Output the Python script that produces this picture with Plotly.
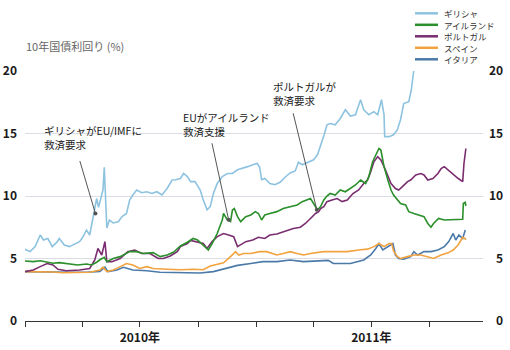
import plotly.graph_objects as go

FONT = "Noto Sans CJK JP"

# ---------------- data (10-year government bond yields, %) ----------------
greece_dates = ["2010-01-01","2010-01-09","2010-01-17","2010-01-25","2010-01-30","2010-02-06","2010-02-13","2010-02-21","2010-02-24","2010-03-04","2010-03-12","2010-03-20","2010-03-28","2010-04-02","2010-04-08","2010-04-13","2010-04-20","2010-04-24","2010-04-27","2010-05-02","2010-05-04","2010-05-06","2010-05-09","2010-05-10","2010-05-14","2010-05-20","2010-05-28","2010-06-03","2010-06-10","2010-06-15","2010-06-20","2010-06-26","2010-07-04","2010-07-12","2010-07-20","2010-07-28","2010-08-05","2010-08-13","2010-08-21","2010-08-26","2010-09-03","2010-09-08","2010-09-14","2010-09-19","2010-09-26","2010-10-04","2010-10-09","2010-10-15","2010-10-20","2010-10-25","2010-10-31","2010-11-08","2010-11-16","2010-11-24","2010-12-02","2010-12-10","2010-12-18","2010-12-26","2011-01-02","2011-01-06","2011-01-09","2011-01-14","2011-01-22","2011-01-30","2011-02-07","2011-02-15","2011-02-23","2011-03-03","2011-03-08","2011-03-14","2011-03-19","2011-03-27","2011-04-01","2011-04-07","2011-04-12","2011-04-17","2011-04-22","2011-04-27","2011-05-05","2011-05-13","2011-05-21","2011-05-29","2011-06-06","2011-06-14","2011-06-19","2011-06-27","2011-07-05","2011-07-11","2011-07-17","2011-07-21","2011-07-22","2011-07-29","2011-08-05","2011-08-11","2011-08-16","2011-08-21","2011-08-29","2011-09-02","2011-09-06","2011-09-12","2011-09-22","2011-10-07","2011-10-24","2011-11-07","2011-11-27"]
greece_vals = [5.74,5.55,5.95,6.88,6.48,6.6,5.95,6.35,6.6,6.08,5.95,6.16,6.35,6.7,7.28,6.88,8.6,9.8,9.1,10.2,10.5,12.3,8.35,7.44,8.08,7.84,7.94,8.35,8.6,9.68,10.08,10.48,10.26,10.34,10.2,10.34,10.08,10.6,11.28,11.3,11.4,11.8,11.55,11.15,11.15,10.5,9.7,8.9,9.15,10.2,11.0,11.55,11.8,11.8,12.1,12.2,12.35,12.5,12.6,12.3,11.3,11.4,11.0,10.9,11.1,11.5,11.85,12.0,12.7,12.5,12.6,12.8,12.9,13.3,14.0,14.8,15.7,15.8,15.7,16.2,16.9,16.4,16.5,17.7,16.9,16.5,16.75,16.5,17.7,16.5,14.75,14.75,14.9,15.3,16.1,17.4,17.55,18.5,20.1,21.0,22.5,23.5,24.5,27.0,28.0]

ireland_dates = ["2010-01-01","2010-01-14","2010-01-25","2010-02-05","2010-02-14","2010-02-24","2010-03-12","2010-03-25","2010-04-08","2010-04-16","2010-04-24","2010-04-29","2010-05-06","2010-05-10","2010-05-20","2010-05-31","2010-06-15","2010-06-26","2010-07-06","2010-07-22","2010-08-02","2010-08-13","2010-08-23","2010-09-03","2010-09-14","2010-09-23","2010-09-30","2010-10-09","2010-10-17","2010-10-23","2010-10-31","2010-11-08","2010-11-10","2010-11-16","2010-11-21","2010-11-24","2010-11-27","2010-12-02","2010-12-07","2010-12-15","2010-12-23","2010-12-30","2011-01-04","2011-01-09","2011-01-14","2011-01-22","2011-02-02","2011-02-12","2011-02-23","2011-03-06","2011-03-14","2011-03-22","2011-03-27","2011-04-01","2011-04-07","2011-04-12","2011-04-17","2011-04-22","2011-04-27","2011-05-05","2011-05-13","2011-05-21","2011-05-29","2011-06-06","2011-06-14","2011-06-22","2011-06-27","2011-07-03","2011-07-08","2011-07-13","2011-07-16","2011-07-19","2011-07-21","2011-07-27","2011-08-01","2011-08-05","2011-08-11","2011-08-16","2011-08-24","2011-08-29","2011-09-06","2011-09-14","2011-09-22","2011-09-28","2011-10-03","2011-10-07","2011-10-15","2011-10-24","2011-11-03","2011-11-15","2011-11-22","2011-11-23","2011-11-26","2011-11-27"]
ireland_vals = [4.8,4.75,4.82,4.72,4.62,4.67,4.56,4.48,4.56,4.48,4.7,4.9,5.1,4.75,5.0,5.15,5.55,5.55,5.4,5.47,5.15,5.28,5.5,6.0,6.3,6.6,6.48,6.08,5.68,6.2,7.0,8.08,8.6,8.08,7.95,8.88,9.0,8.35,7.95,8.35,8.48,8.75,8.6,8.08,8.48,8.6,8.75,9.0,9.15,9.28,9.55,9.68,9.8,9.4,8.88,9.15,9.68,10.0,10.2,10.08,10.48,10.34,10.6,10.88,11.28,11.0,11.55,12.74,13.28,13.8,13.68,12.88,12.35,11.28,10.48,10.08,9.68,9.4,9.28,8.75,8.6,8.48,8.35,7.8,7.5,7.8,8.2,8.08,8.08,8.08,8.14,9.4,9.5,9.2]

portugal_dates = ["2010-01-01","2010-01-14","2010-01-25","2010-02-05","2010-02-14","2010-02-22","2010-03-07","2010-03-28","2010-04-13","2010-04-21","2010-04-26","2010-05-02","2010-05-07","2010-05-10","2010-05-18","2010-05-31","2010-06-12","2010-06-23","2010-07-04","2010-07-17","2010-07-30","2010-08-07","2010-08-18","2010-08-29","2010-09-03","2010-09-14","2010-09-19","2010-09-29","2010-10-09","2010-10-15","2010-10-23","2010-10-31","2010-11-10","2010-11-18","2010-11-26","2010-12-02","2010-12-07","2010-12-15","2010-12-26","2011-01-04","2011-01-14","2011-01-22","2011-02-02","2011-02-12","2011-02-20","2011-02-28","2011-03-11","2011-03-19","2011-03-27","2011-04-04","2011-04-09","2011-04-12","2011-04-17","2011-04-22","2011-04-30","2011-05-08","2011-05-16","2011-05-24","2011-06-02","2011-06-11","2011-06-19","2011-06-25","2011-06-30","2011-07-05","2011-07-11","2011-07-16","2011-07-21","2011-07-27","2011-08-01","2011-08-08","2011-08-13","2011-08-19","2011-08-27","2011-09-01","2011-09-09","2011-09-17","2011-09-22","2011-09-28","2011-10-06","2011-10-14","2011-10-19","2011-10-24","2011-10-30","2011-11-07","2011-11-15","2011-11-22","2011-11-24","2011-11-27"]
portugal_vals = [3.95,4.08,4.35,4.6,4.48,4.14,4.02,4.08,4.2,4.88,5.8,5.28,6.35,4.75,4.75,5.0,5.55,5.68,5.4,5.4,5.0,5.0,5.2,5.55,5.95,6.2,6.45,6.35,6.2,5.8,6.35,6.75,7.0,6.88,6.75,5.95,6.08,6.35,6.48,6.7,6.6,6.88,6.96,7.15,7.28,7.4,7.5,7.8,8.2,8.6,8.75,9.0,9.15,9.55,9.68,9.8,9.55,9.68,10.2,10.48,11.0,11.28,11.95,12.74,13.15,12.88,12.35,11.55,11.0,10.6,10.48,10.75,11.15,11.28,11.68,11.8,11.68,11.28,11.4,11.8,12.2,12.35,12.08,11.8,11.4,11.15,12.6,13.8]

spain_dates = ["2010-01-01","2010-01-25","2010-02-14","2010-03-01","2010-03-23","2010-04-13","2010-04-29","2010-05-04","2010-05-10","2010-05-20","2010-05-31","2010-06-10","2010-06-20","2010-07-01","2010-07-12","2010-07-22","2010-08-13","2010-09-03","2010-09-23","2010-10-09","2010-10-20","2010-10-31","2010-11-10","2010-11-21","2010-11-29","2010-12-04","2010-12-12","2010-12-23","2011-01-06","2011-01-17","2011-02-02","2011-02-12","2011-02-23","2011-03-06","2011-03-16","2011-03-27","2011-04-07","2011-04-17","2011-05-02","2011-05-13","2011-05-24","2011-06-14","2011-06-25","2011-07-05","2011-07-13","2011-07-21","2011-07-29","2011-08-02","2011-08-05","2011-08-11","2011-08-16","2011-08-27","2011-09-06","2011-09-17","2011-09-28","2011-10-07","2011-10-19","2011-10-30","2011-11-07","2011-11-15","2011-11-22","2011-11-26","2011-11-27"]
spain_vals = [3.95,3.95,3.92,3.86,3.86,3.9,4.08,4.3,3.95,4.08,4.35,4.6,4.48,4.2,4.35,4.2,4.14,4.1,4.14,4.1,4.4,4.5,4.65,5.15,5.55,5.28,5.4,5.4,5.55,5.55,5.28,5.4,5.55,5.4,5.28,5.4,5.45,5.55,5.55,5.55,5.55,5.7,5.75,5.95,6.2,5.95,6.2,6.2,5.6,5.15,5.0,5.15,5.28,5.28,5.15,5.0,5.28,5.45,5.68,6.1,6.7,6.6,6.48]

italy_dates = ["2010-01-01","2010-01-25","2010-02-14","2010-03-12","2010-04-08","2010-04-29","2010-05-07","2010-05-12","2010-05-26","2010-06-05","2010-06-20","2010-07-12","2010-08-02","2010-08-23","2010-09-14","2010-10-04","2010-10-25","2010-11-16","2010-12-02","2010-12-23","2011-01-11","2011-02-02","2011-02-23","2011-03-16","2011-04-07","2011-04-24","2011-05-02","2011-05-29","2011-06-19","2011-06-30","2011-07-08","2011-07-13","2011-07-19","2011-07-27","2011-08-04","2011-08-08","2011-08-13","2011-08-21","2011-09-01","2011-09-06","2011-09-12","2011-09-22","2011-10-03","2011-10-14","2011-10-24","2011-10-31","2011-11-07","2011-11-11","2011-11-16","2011-11-22","2011-11-26"]
italy_vals = [3.95,3.92,3.95,3.9,3.9,3.97,4.3,3.95,4.08,4.3,4.08,4.02,3.9,3.9,3.88,3.84,3.95,4.25,4.45,4.6,4.75,4.75,4.88,4.75,4.8,4.85,4.6,4.6,4.88,5.28,5.8,6.2,5.68,5.95,6.2,5.28,5.0,4.95,5.15,5.55,5.28,5.55,5.55,5.68,5.95,6.35,7.0,6.48,6.88,6.6,7.28]

series_names = ["ギリシャ", "アイルランド", "ポルトガル", "スペイン", "イタリア"]
series_colors = ["#8dc3e0", "#2b8f2b", "#7a2d6f", "#f2a23e", "#4b7aa9"]
series_dates = [greece_dates, ireland_dates, portugal_dates, spain_dates, italy_dates]
series_vals = [greece_vals, ireland_vals, portugal_vals, spain_vals, italy_vals]

x_tickvals = ["2010-01-01", "2010-04-01", "2010-07-01", "2010-10-01",
              "2011-01-01", "2011-04-01", "2011-07-01", "2011-10-01"]
x_ticktext = ["", "", "2010年", "", "", "", "2011年", ""]
y_tickvals = [0, 5, 10, 15, 20]

# events: (date, yield, label)
events = [
    ("2010-04-22", 8.6, "ギリシャがEU/IMFに<br>救済要求"),
    ("2010-11-18", 8.1, "EUがアイルランド<br>救済支援"),
    ("2011-04-06", 8.9, "ポルトガルが<br>救済要求"),
]

# ---------------- figure ----------------
fig = go.Figure()
# draw order: Italy, Spain, Portugal, Ireland, Greece (Greece on top)
for i in [4, 3, 2, 1, 0]:
    fig.add_trace(go.Scatter(
        x=series_dates[i], y=series_vals[i], mode="lines", name=series_names[i],
        line=dict(color=series_colors[i], width=1.6), showlegend=False,
        hoverinfo="skip"))

# right-side copy of the y axis
fig.add_trace(go.Scatter(x=[x_tickvals[0]], y=[0], yaxis="y2", mode="markers",
                         marker=dict(opacity=0), showlegend=False, hoverinfo="skip"))

W, H = 510, 350
ml, mr, mt, mb = 25, 27, 71, 29
pw, ph = W - ml - mr, H - mt - mb


def px(xp):
    return (xp - ml) / pw


def py(yp):
    return (H - mb - yp) / ph


tick_font = dict(family=FONT, size=12, color="#1a1a1a", weight="bold")

fig.update_layout(
    width=W, height=H,
    margin=dict(l=ml, r=mr, t=mt, b=mb, pad=0, autoexpand=False),
    paper_bgcolor="white", plot_bgcolor="white",
    font=dict(family=FONT, color="#222"),
    xaxis=dict(
        type="date", range=["2010-01-01", "2011-12-24"], automargin=False,
        tickmode="array", tickvals=x_tickvals, ticktext=x_ticktext,
        ticks="outside", ticklen=5, tickwidth=1.2, tickcolor="#333",
        showline=True, linecolor="#333", linewidth=1.3,
        showgrid=False, zeroline=False, tickfont=tick_font,
    ),
    yaxis=dict(
        range=[0, 20], tickmode="array", tickvals=y_tickvals, automargin=False,
        showgrid=True, gridcolor="#dcdde4", gridwidth=1,
        zeroline=False, showline=False, ticks="",
        tickfont=tick_font, ticklabelstandoff=7,
    ),
    yaxis2=dict(
        range=[0, 20], overlaying="y", side="right", tickmode="array",
        tickvals=y_tickvals, automargin=False,
        ticktext=["\u20070", "\u20075", "10", "15", "20"],
        showgrid=False, zeroline=False, showline=False, ticks="",
        tickfont=tick_font, ticklabelstandoff=5,
    ),
)

# axis title
fig.add_annotation(xref="paper", yref="paper", x=px(24), y=py(46),
                   xanchor="left", yanchor="middle", showarrow=False,
                   text="10年国債利回り (%)", font=dict(size=11, color="#666", family=FONT))

# legend (manual, compact)
leg_rows = [13.3, 24.8, 36.3, 47.8, 59.3]
for i, yy in enumerate(leg_rows):
    fig.add_shape(type="line", xref="paper", yref="paper",
                  x0=px(415), x1=px(438), y0=py(yy), y1=py(yy),
                  line=dict(color=series_colors[i], width=2.5))
    fig.add_annotation(xref="paper", yref="paper", x=px(442), y=py(yy),
                       xanchor="left", yanchor="middle", showarrow=False,
                       text=series_names[i], font=dict(size=8.5, color="#333", family=FONT))

# event annotations: text blocks
text_pos = [(42, 137.5), (181, 124.5), (270.5, 93)]
arrow_tail = [(-16, -54), (-17, -78), (-24, -98)]
for (d, v, label), (tx, ty), (ax, ay) in zip(events, text_pos, arrow_tail):
    fig.add_annotation(xref="paper", yref="paper", x=px(tx), y=py(ty),
                       xanchor="left", yanchor="middle", align="left", showarrow=False,
                       text=label, font=dict(size=10.5, color="#1a1a1a", family=FONT))
    fig.add_annotation(xref="x", yref="y", x=d, y=v, text="", showarrow=True,
                       ax=ax, ay=ay, arrowhead=6, arrowsize=1, arrowwidth=1,
                       arrowcolor="#555")

fig.write_html("out.html")
